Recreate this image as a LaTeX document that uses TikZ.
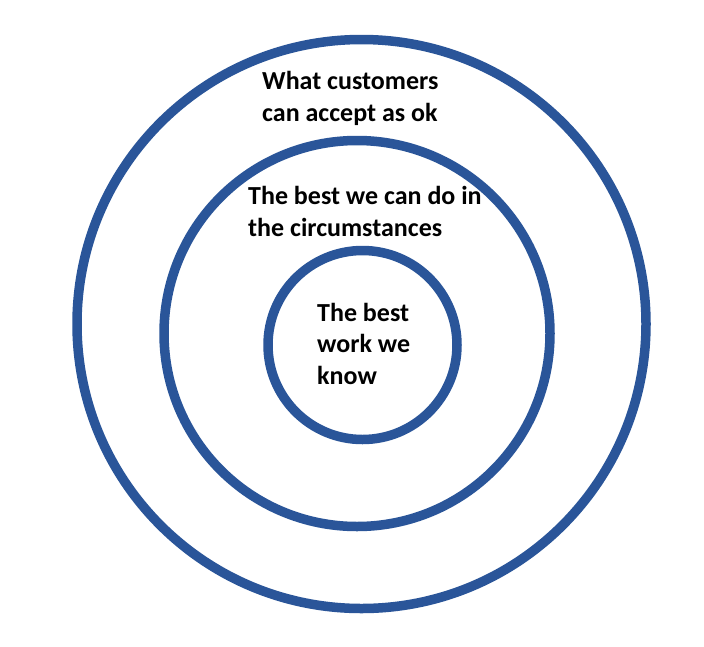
\documentclass[tikz,border=0pt]{standalone}
\usepackage{fontspec}
\setmainfont{Carlito}
\definecolor{ringblue}{RGB}{42,85,153}
\begin{document}
\begin{tikzpicture}[x=1pt,y=-1pt,
  ring/.style={draw=ringblue,line width=9.5pt,circle,inner sep=0pt,outer sep=0pt},
  label/.style={anchor=base west,align=left,inner sep=0pt,text=black,
    font=\bfseries\fontsize{26}{31.5}\selectfont}]
\useasboundingbox[fill=white] (0,0) rectangle (704,646);
\node[ring,minimum size=569pt] (outer) at (361.5,324) {};
\node[ring,minimum size=386pt] (middle) at (357,333.5) {};
\node[ring,minimum size=189pt] (inner) at (362.5,345) {};
\node[label] (t1) at (262,121) {What customers\\can accept as ok};
\node[label] (t2) at (248,236) {The best we can do in\\the circumstances};
\node[label] (t3) at (317,384) {The best\\work we\\know};
\end{tikzpicture}
\end{document}
